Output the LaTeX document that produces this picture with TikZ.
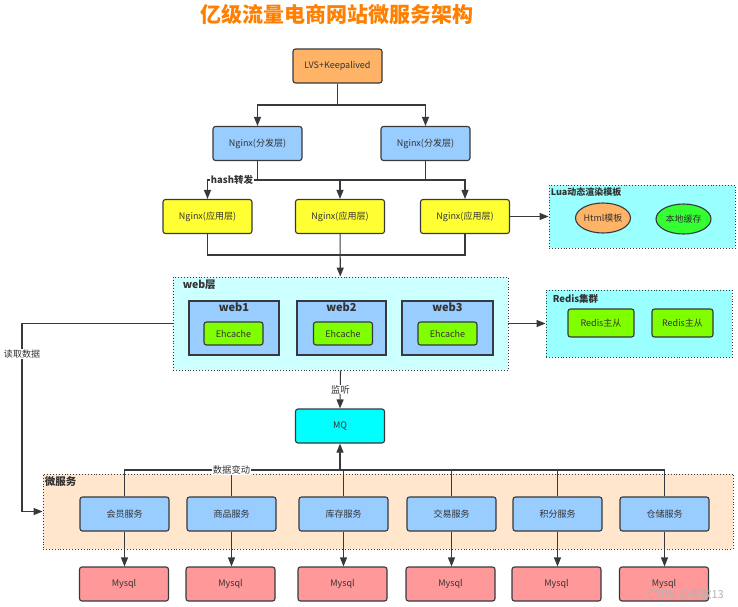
\documentclass[tikz,border=0pt]{standalone}
\usepackage{fontspec}
\setmainfont{Noto Sans CJK SC}
\usetikzlibrary{arrows.meta,shapes.geometric}
\definecolor{txt}{HTML}{333333}
\definecolor{bd}{HTML}{36393D}
\definecolor{ttlc}{HTML}{FF8000}
\definecolor{orf}{HTML}{FFB366}
\definecolor{bluef}{HTML}{99CCFF}
\definecolor{yelf}{HTML}{FFFF33}
\definecolor{luac}{HTML}{99FFFF}
\definecolor{webc}{HTML}{CCFFFF}
\definecolor{limef}{HTML}{80FF00}
\definecolor{greenf}{HTML}{33FF33}
\definecolor{mqf}{HTML}{00FFFF}
\definecolor{msc}{HTML}{FFE6CC}
\definecolor{redf}{HTML}{FF9999}
\begin{document}
\begin{tikzpicture}[x=1pt,y=-1pt,
  every node/.style={font=\fontsize{9}{10}\selectfont, text=txt},
  box/.style={draw=bd, line width=1.1pt, rounded corners=2.5pt, minimum width=89pt, minimum height=34pt, inner sep=1pt},
  grp/.style={draw=bd, dotted, line width=0.9pt, inner sep=0pt},
  ln/.style={draw=bd, line width=1.1pt},
  arr/.style={ln, -{Triangle[length=9pt,width=7pt]}},
  lbl/.style={fill=white, inner sep=0.6pt},
  ttl/.style={font=\fontsize{#1}{#1}\selectfont\bfseries, inner sep=0pt, anchor=north west},
  ell/.style={ellipse, draw=bd, line width=1.1pt, minimum width=55pt, minimum height=30pt, inner sep=0pt}
]
\fill[white] (0,0) rectangle (738,606);
\useasboundingbox (0,0) rectangle (738,606);

% title
\node[font=\fontsize{21}{24}\selectfont\bfseries, text=ttlc] (title) at (337,14) {亿级流量电商网站微服务架构};

% top nodes
\node[box, fill=orf] (lvs) at (337.5,66) {LVS+Keepalived};
\node[box, fill=bluef] (ngl) at (257.5,143.5) {Nginx(分发层)};
\node[box, fill=bluef] (ngr) at (425.5,143.5) {Nginx(分发层)};
\node[box, fill=yelf] (ya) at (207.5,216.5) {Nginx(应用层)};
\node[box, fill=yelf] (yb) at (340,216.5) {Nginx(应用层)};
\node[box, fill=yelf] (yc) at (465,216.5) {Nginx(应用层)};

% Lua group
\node[grp, fill=luac, minimum width=186pt, minimum height=63pt] (lua) at (642,216.5) {};
\node[ttl=9] (lualbl) at ([shift={(2,3)}]lua.north west) {Lua动态渲染模板};
\node[ell, fill=orf] (html) at (603,218) {Html模板};
\node[ell, fill=greenf] (lc) at (683.5,219) {本地缓存};

% web layer
\node[grp, fill=webc, minimum width=335pt, minimum height=93pt] (web) at (340.5,323.5) {};
\node[ttl=10.5] (weblbl) at ([shift={(10,3)}]web.north west) {web层};
\foreach \n/\cx/\w/\ex in {1/234/90/233.5, 2/341.5/89/343, 3/447.5/91/447.5}{
  \node[draw=bd, line width=1.1pt, fill=bluef, minimum width=\w pt, minimum height=54pt, inner sep=0pt,
        label={[font=\fontsize{11}{11}\selectfont\bfseries, text=txt, anchor=north, inner sep=0pt, yshift=-2.5pt]north:web\n}] (w\n) at (\cx,328) {};
  \node[box, fill=limef, minimum width=59pt, minimum height=23pt] (e\n) at (\ex,333.5) {Ehcache};
}

% redis group
\node[grp, fill=luac, minimum width=186pt, minimum height=67pt] (redis) at (639,323.5) {};
\node[ttl=9.5] (redislbl) at ([shift={(7,5)}]redis.north west) {Redis集群};
\node[box, fill=limef, minimum width=66pt, minimum height=28pt] (r1) at (601,323) {Redis主从};
\node[box, fill=limef, minimum width=61pt, minimum height=28pt] (r2) at (682.5,323) {Redis主从};

% MQ
\node[box, fill=mqf] (mq) at (340,426) {MQ};

% micro services group
\node[grp, fill=msc, minimum width=690pt, minimum height=75pt] (micro) at (388,511.5) {};
\node[ttl=10.5] (microlbl) at ([shift={(2,3)}]micro.north west) {微服务};
\foreach \n/\cx/\t in {1/124.5/会员服务, 2/231.5/商品服务, 3/343.5/库存服务, 4/451.5/交易服务, 5/557.5/积分服务, 6/664.5/仓储服务}{
  \node[box, fill=bluef] (s\n) at (\cx,514) {\t};
}
\foreach \n/\cx in {1/124, 2/230.5, 3/342.5, 4/450.5, 5/556.5, 6/664}{
  \node[box, fill=redf] (m\n) at (\cx,584) {Mysql};
}

% junctions
\coordinate (j1) at (337.5,105);
\coordinate (j2) at (340,180);
\coordinate (j3) at (340,255);
\coordinate (lp) at (22,323.5);
\coordinate (j4) at (340,470);

% connectors
\draw[ln] (lvs) -- (j1);
\draw[arr] (j1) -| (ngl);
\draw[arr] (j1) -| (ngr);
\draw[ln] (ngl) |- (j2);
\draw[ln] (ngr) |- (j2);
\draw[arr] (j2) -| (ya);
\draw[arr] (j2) -- (yb);
\draw[arr] (j2) -| (yc);
\node[lbl, font=\fontsize{9.5}{10}\selectfont\bfseries] (hash) at (232,180) {hash转发};
\draw[ln] (ya) |- (j3);
\draw[ln] (yc) |- (j3);
\draw[arr] (yb) -- (web);
\draw[arr] (yc) -- (lua);
\draw[arr] (web) -- (redis);
\draw[arr] (web.west) -- (lp) |- (micro.west);
\node[lbl] (read) at (22,354) {读取数据};
\draw[arr] (web.south) -- (mq.north) node[midway, lbl, font=\fontsize{9.5}{10}\selectfont] (listen) {监听};
\foreach \n in {1,...,6}{
  \draw[ln] (s\n.north) |- (j4);
  \draw[arr] (s\n.south) -- (s\n.south |- m\n.north);
}
\draw[arr] (j4) -- (mq.south);
\node[lbl, font=\fontsize{9.3}{10}\selectfont] (change) at (231.5,470) {数据变动};

% watermark
\node[font=\fontsize{11}{11}\selectfont, text=gray!60, anchor=east, inner sep=0pt] (wm) at (724,595) {CSDN @失散13};
\end{tikzpicture}
\end{document}
